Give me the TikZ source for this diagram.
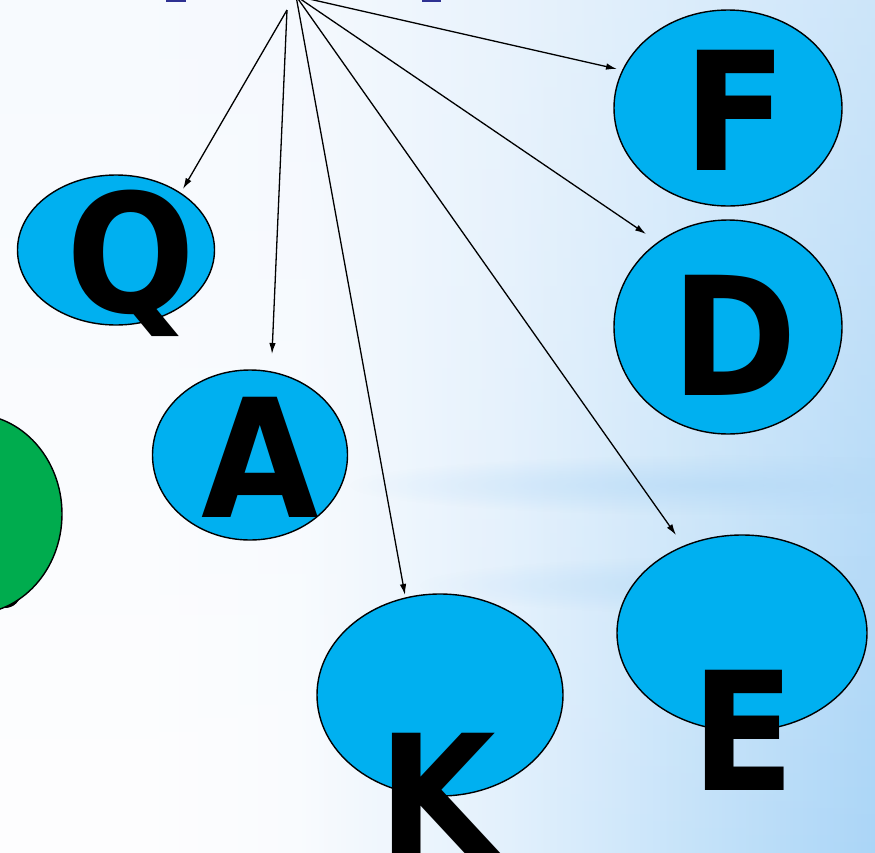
\documentclass[tikz,border=0pt]{standalone}
\usepackage{fontspec}
\newfontfamily\letterfont{DejaVu Sans Bold}[FakeStretch=0.92]
\usetikzlibrary{arrows.meta,fadings,shapes.geometric}
\definecolor{bub}{RGB}{0,176,240}
\definecolor{grn}{RGB}{0,172,78}
\definecolor{navy}{RGB}{46,49,146}
\definecolor{bg0}{RGB}{254,254,255}
\definecolor{bg1}{RGB}{250,252,255}
\definecolor{bg2}{RGB}{238,246,253}
\definecolor{bg3}{RGB}{226,240,252}
\definecolor{bg4}{RGB}{196,226,249}
\definecolor{bg5}{RGB}{170,213,247}
\definecolor{bgTop}{RGB}{240,246,253}
\definecolor{bandc}{RGB}{182,218,247}
\pgfdeclarehorizontalshading{bgsh}{100bp}{color(0bp)=(bg0); color(25bp)=(bg0); color(33bp)=(bg0); color(42bp)=(bg1); color(48bp)=(bg2); color(54bp)=(bg3); color(65bp)=(bg4); color(75bp)=(bg5); color(100bp)=(bg5)}
\tikzfading[name=bandfade, inner color=transparent!0, outer color=transparent!100]
\tikzfading[name=fadedown, top color=transparent!0, bottom color=transparent!100]
\begin{document}
\begin{tikzpicture}[x=1pt,y=-1pt,
  bubble/.style={ellipse, draw=black, line width=1.4pt, fill=bub, inner sep=0pt},
  letter/.style={font=\letterfont\fontsize{165}{165}\selectfont, inner sep=0pt, anchor=base, text=black},
  link/.style={draw=black, line width=1.3pt, -{Latex[length=11pt,width=6.5pt]}}]
\useasboundingbox (0,0) rectangle (875,852);
% background
\fill[shading=bgsh] (-2,-2) rectangle (877,854);
\fill[bgTop, path fading=fadedown, opacity=0.5] (-10,-10) rectangle (885,862);
\fill[bandc, path fading=bandfade, opacity=0.7] (350,455) rectangle (1100,515);
\fill[bandc, path fading=bandfade, opacity=0.7] (420,555) rectangle (1150,615);
% top fragments
\fill[navy] (166,-2) rectangle (186,1.5);
\fill[navy] (422,-2) rectangle (441,1.5);
% green ellipse with hidden letter piece
\fill[black] (5,592) circle[radius=16];
\node[ellipse, draw=black, line width=1.4pt, fill=grn, minimum width=180pt, minimum height=200pt] (G) at (-28,514) {};
% bubbles
\node[bubble, minimum width=197pt, minimum height=150pt] (Q) at (116,250) {};
\node[bubble, minimum width=195pt, minimum height=170pt] (A) at (250,455) {};
\node[bubble, minimum width=228pt, minimum height=196pt] (F) at (728,108) {};
\node[bubble, minimum width=228pt, minimum height=214pt] (D) at (728,327) {};
\node[bubble, minimum width=246pt, minimum height=202pt] (K) at (440,695) {};
\node[bubble, minimum width=250pt, minimum height=196pt] (E) at (742,633) {};
% letters
\node[letter] (Qt) at (131,312) {Q};
\node[letter] (At) at (260,517) {A};
\node[letter] (Ft) at (735,170) {F};
\node[letter] (Dt) at (734,395) {D};
\node[letter] (Kt) at (437,853) {K};
\node[letter] (Et) at (743,790) {E};
% arrows
\coordinate (o1) at (287,10);
\coordinate (o2) at (296,-4);
\coordinate (tQ) at (183,189);
\coordinate (tA) at (272,354);
\coordinate (tK) at (405,595);
\coordinate (tE) at (676,535);
\coordinate (tD) at (646,234);
\coordinate (tF) at (617,69);
\draw[link] (o1) -- (tQ);
\draw[link] (o1) -- (tA);
\draw[link] (o2) -- (tK);
\draw[link] (o2) -- (tE);
\draw[link] (o2) -- (tD);
\draw[link] (o2) -- (tF);
\end{tikzpicture}
\end{document}
